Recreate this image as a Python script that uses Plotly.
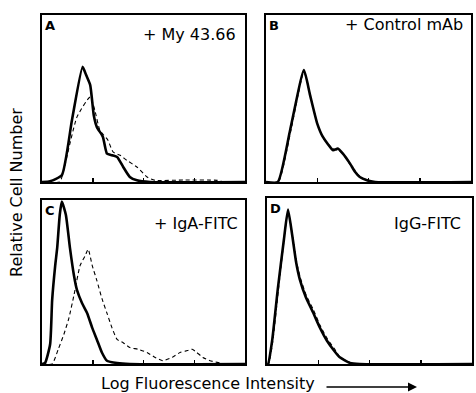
import plotly.graph_objects as go

W, H = 476, 393

# ---- data: x in log decades (0-4), y = relative cell number (0-100 of panel height)
a_solid_x = [0, 0.16, 0.39, 0.59, 0.80, 0.87, 0.95, 1.02, 1.08, 1.20, 1.28, 1.38, 1.48, 1.60, 1.73, 1.87, 2.13, 4.0]
a_solid_y = [0, 0.5, 4, 37, 69, 64, 58, 40, 33, 27, 17, 16, 15, 9, 3, 1, 0, 0]
a_dash_x = [0, 0.35, 0.41, 0.69, 0.95, 1.04, 1.14, 1.22, 1.30, 1.40, 1.54, 1.67, 1.87, 2.07, 2.23, 2.8, 3.45, 3.6, 4.0]
a_dash_y = [0, 0, 5, 39, 51, 43, 31, 28, 25, 18, 16, 13, 9, 3, 1, 1.2, 1, 0, 0]

b_solid_x = [0, 0.23, 0.47, 0.74, 0.86, 1.00, 1.11, 1.31, 1.40, 1.50, 1.64, 1.74, 1.83, 1.97, 2.13, 4.0]
b_solid_y = [0, 0, 31, 67, 52, 35, 27, 19, 20, 17, 11, 6, 3, 1, 0, 0]
b_dash_x = [0, 0.24, 0.48, 0.74, 0.87, 1.00, 1.12, 1.30, 1.41, 1.50, 1.65, 1.75, 1.84, 1.98, 2.13, 4.0]
b_dash_y = [0, 0, 30, 66, 51, 35, 26, 20, 19, 17, 10, 6, 3, 1, 0, 0]

c_solid_x = [0, 0.06, 0.16, 0.20, 0.26, 0.30, 0.35, 0.39, 0.47, 0.55, 0.63, 0.69, 0.79, 0.89, 0.99, 1.08, 1.18, 1.28, 1.48, 1.73, 4.0]
c_solid_y = [0, 0.6, 12, 39, 60, 71, 91, 99, 91, 71, 54, 45, 37, 31, 22, 15, 7, 2, 0.6, 0, 0]
c_dash_x = [0, 0.20, 0.32, 0.43, 0.53, 0.63, 0.75, 0.85, 0.91, 0.99, 1.08, 1.18, 1.28, 1.38, 1.48, 1.60, 1.73, 1.89, 2.07,
            2.23, 2.38, 2.56, 2.72, 2.84, 2.96, 3.05, 3.17, 3.31, 3.45, 3.61, 4.0]
c_dash_y = [0, 0, 9, 18, 28, 42, 60, 66, 70, 60, 51, 40, 31, 22, 15, 13, 10, 9, 7,
            4, 2, 4, 7, 8, 9, 7, 4, 2, 1, 0, 0]

d_solid_x = [0, 0.02, 0.10, 0.21, 0.33, 0.41, 0.49, 0.57, 0.64, 0.76, 0.90, 1.03, 1.17, 1.31, 1.42, 1.62, 1.81, 4.0]
d_solid_y = [0, 0, 14, 45, 75, 93, 78, 61, 51, 40, 31, 22, 14, 8, 4, 0.6, 0, 0]
d_dash_x = [0, 0.03, 0.11, 0.22, 0.33, 0.41, 0.50, 0.58, 0.65, 0.77, 0.90, 1.04, 1.18, 1.32, 1.43, 1.63, 1.82, 4.0]
d_dash_y = [0, 0, 13, 44, 74, 92, 77, 61, 52, 41, 33, 23, 15, 9, 4, 0.8, 0, 0]

panel_letters = ["A", "B", "C", "D"]
panel_titles = ["+ My 43.66", "+ Control mAb", "+ IgA-FITC", "IgG-FITC"]
decade_ticks = [1, 2, 3]

# panel boxes in pixels: (left, top, right, bottom)
boxes = [(42, 15, 245, 182), (266, 15, 471, 182), (42, 200, 245, 364), (267, 198, 472, 364)]
# title anchor (right x, centre y) in pixels
title_pos = [(238, 34), (465, 25), (240, 223), (463, 223)]
series = [
    (a_solid_x, a_solid_y, a_dash_x, a_dash_y),
    (b_solid_x, b_solid_y, b_dash_x, b_dash_y),
    (c_solid_x, c_solid_y, c_dash_x, c_dash_y),
    (d_solid_x, d_solid_y, d_dash_x, d_dash_y),
]

fig = go.Figure()
layout = dict(width=W, height=H, margin=dict(l=0, r=0, t=0, b=0),
              paper_bgcolor="white", plot_bgcolor="white", showlegend=False)
annotations = []
font_family = "DejaVu Sans, Liberation Sans, sans-serif"

for i, ((l, t, r, b), (sx, sy, dx, dy)) in enumerate(zip(boxes, series)):
    n = "" if i == 0 else str(i + 1)
    xa, ya = "x" + n, "y" + n
    fig.add_trace(go.Scatter(x=dx, y=dy, mode="lines", xaxis=xa, yaxis=ya,
                             line=dict(color="black", width=1.1, dash="4px,3px", shape="spline", smoothing=0.5),
                             hoverinfo="skip"))
    fig.add_trace(go.Scatter(x=sx, y=sy, mode="lines", xaxis=xa, yaxis=ya,
                             line=dict(color="black", width=2.6, shape="spline", smoothing=0.5),
                             hoverinfo="skip"))
    layout["xaxis" + n] = dict(domain=[l / W, r / W], range=[0, 4], anchor=ya,
                               showline=True, linecolor="black", linewidth=2, mirror=True,
                               showgrid=False, zeroline=False, tickvals=decade_ticks, ticks="inside",
                               ticklen=4, tickcolor="black", tickwidth=1.5, showticklabels=False,
                               fixedrange=True)
    layout["yaxis" + n] = dict(domain=[1 - b / H, 1 - t / H], range=[0, 100], anchor=xa,
                               showline=True, linecolor="black", linewidth=2, mirror=True,
                               showgrid=False, zeroline=False, showticklabels=False, ticks="",
                               fixedrange=True)
    annotations.append(dict(text="<b>" + panel_letters[i] + "</b>", xref="paper", yref="paper",
                            x=(l + 1) / W, y=1 - (t + 1) / H, xanchor="left", yanchor="top",
                            showarrow=False, font=dict(family=font_family, size=13, color="black")))
    tx, ty = title_pos[i]
    annotations.append(dict(text=panel_titles[i], xref="paper", yref="paper",
                            x=tx / W, y=1 - ty / H, xanchor="right", yanchor="middle",
                            showarrow=False, font=dict(family=font_family, size=16, color="black")))

annotations.append(dict(text="Relative Cell Number", xref="paper", yref="paper",
                        x=16 / W, y=1 - 193 / H, textangle=-90, showarrow=False,
                        xanchor="center", yanchor="middle",
                        font=dict(family=font_family, size=16, color="black")))
annotations.append(dict(text="Log Fluorescence Intensity", xref="paper", yref="paper",
                        x=99 / W, y=1 - 383 / H, xanchor="left", yanchor="middle", showarrow=False,
                        font=dict(family=font_family, size=16, color="black")))
annotations.append(dict(text="", xref="paper", yref="paper", x=417 / W, y=1 - 387 / H,
                        ax=-92, ay=0, showarrow=True, arrowhead=2, arrowsize=1.2, arrowwidth=1.5,
                        arrowcolor="black"))
layout["annotations"] = annotations
fig.update_layout(**layout)
fig.write_html("out.html", config={"displayModeBar": False, "staticPlot": True},
               post_script="document.body.style.margin='0px';document.body.style.overflow='hidden';")
